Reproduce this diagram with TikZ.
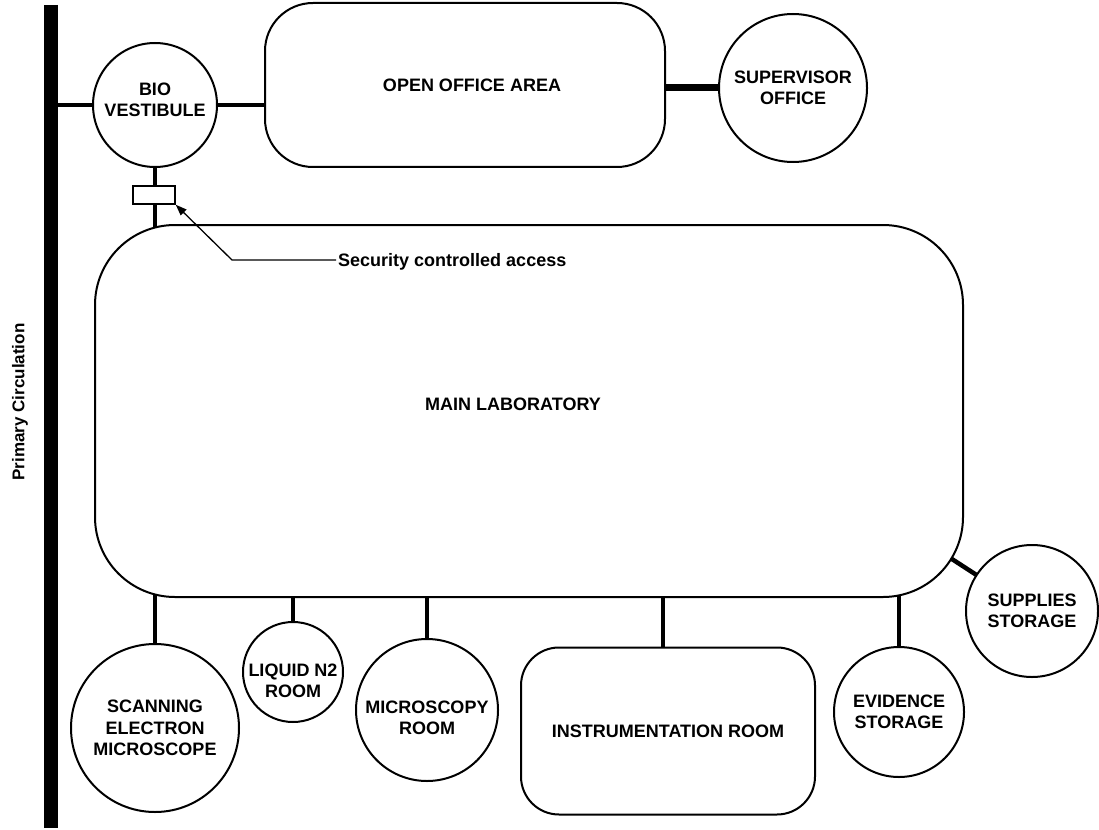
\documentclass[tikz,border=0pt]{standalone}
\usepackage{fontspec}
\setmainfont{Liberation Sans}
\usetikzlibrary{backgrounds,arrows.meta,calc}
\begin{document}
\begin{tikzpicture}[x=1pt,y=-1pt,
  txt/.style={font=\fontsize{18}{21.5}\selectfont\bfseries, align=center, inner sep=0pt},
  room/.style={txt, draw, line width=2pt, fill=white},
  roomc/.style={room, circle},
  lbl/.style={txt},
  conn/.style={line width=4.5pt},
]
\useasboundingbox (0,0) rectangle (1099,829);

% primary circulation
\coordinate (bartop) at (51,5);
\coordinate (barbot) at (51,828);
\draw[line width=14pt] (bartop) -- (barbot);
\node[txt, font=\fontsize{17}{20}\selectfont\bfseries, rotate=90] (pc) at (20,402) {Primary Circulation};

% rooms
\node[roomc, minimum size=124pt, label={[lbl,yshift=5pt]center:{BIO\\VESTIBULE}}] (bio) at (155,105) {};
\node[room, rounded corners=48pt, minimum width=400pt, minimum height=164pt,
      label={[lbl,xshift=7pt]center:OPEN OFFICE AREA}] (office) at (465,85) {};
\node[roomc, minimum size=148pt] (sup) at (793,88) {SUPERVISOR\\OFFICE};
\node[room, rounded corners=80pt, minimum width=868pt, minimum height=372pt,
      label={[lbl,xshift=-16pt,yshift=7pt]center:MAIN LABORATORY}] (lab) at (529,411) {};
\node[roomc, minimum size=168pt] (sem) at (155,728) {SCANNING\\ELECTRON\\MICROSCOPE};
\node[roomc, minimum size=100pt, label={[lbl,yshift=-9pt]center:{LIQUID N2\\ROOM}}] (ln2) at (293,672) {};
\node[roomc, minimum size=142pt, label={[lbl,yshift=-8pt]center:{MICROSCOPY\\ROOM}}] (micro) at (427,710) {};
\node[room, rounded corners=38pt, minimum width=294pt, minimum height=167pt] (instr) at (668,731) {INSTRUMENTATION ROOM};
\node[roomc, minimum size=130pt] (evid) at (899,712) {EVIDENCE\\STORAGE};
\node[roomc, minimum size=132pt] (supp) at (1032,611) {SUPPLIES\\STORAGE};

% security controlled access
\node[draw, fill=white, line width=1.5pt, minimum width=42pt, minimum height=18pt, inner sep=0pt] (sec) at (154,195) {};
\node[font=\fontsize{18}{21.5}\selectfont\bfseries, anchor=base west, inner sep=2pt] (sectext) at (336,266) {Security controlled access};
\coordinate (leader) at (232,260);
\draw[line width=1.3pt, -{Triangle[length=11pt,width=8pt]}] (sectext.west |- leader) -- (leader) -- (sec.south east);

% connectors
\coordinate (labcorner) at ($(lab.south east)+(-83,-85)$);
\begin{pgfonlayer}{background}
  \draw[conn] (bio.center) -- (bio.center -| bartop);
  \draw[conn] (bio.center) -- (bio.center -| office.center);
  \draw[conn, line width=7pt] (sup.center) -- (sup.center -| office.center);
  \draw[conn] (bio.center) -- (bio.center |- lab.center);
  \draw[conn] (sem.center) -- (sem.center |- lab.center);
  \draw[conn] (ln2.center) -- (ln2.center |- lab.center);
  \draw[conn] (micro.center) -- (micro.center |- lab.center);
  \draw[conn] ([xshift=-5pt]instr.center) -- ([xshift=-5pt]instr.center |- lab.center);
  \draw[conn] (evid.center) -- (evid.center |- lab.center);
  \draw[conn] (labcorner) -- (supp.center);
\end{pgfonlayer}
\end{tikzpicture}
\end{document}
